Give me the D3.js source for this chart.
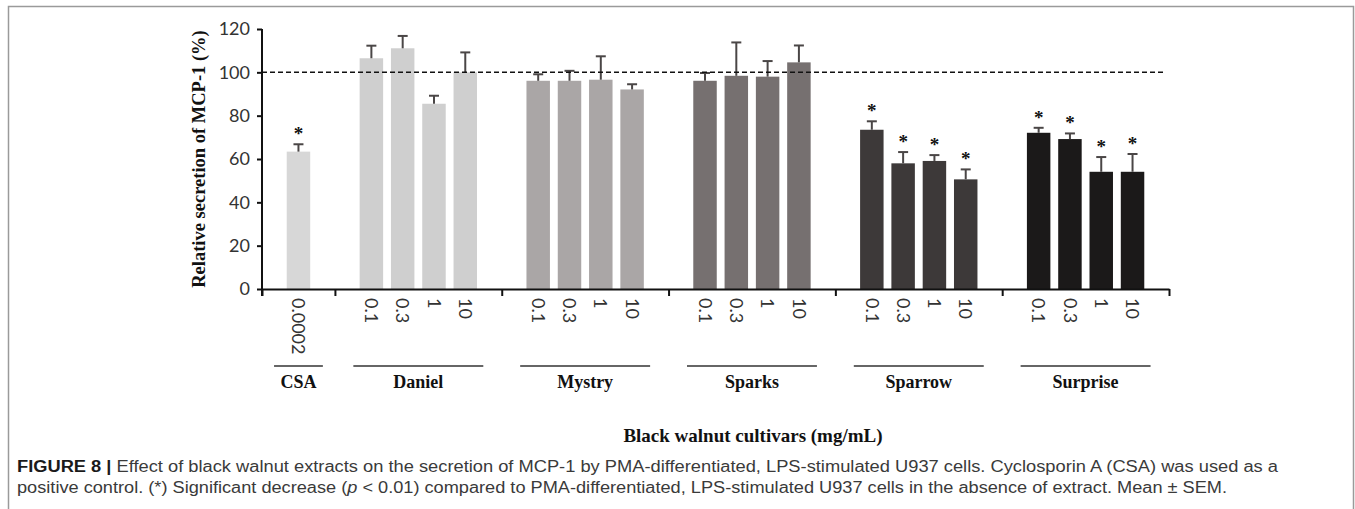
<!DOCTYPE html>
<html>
<head>
<meta charset="utf-8">
<script src="https://cdn.jsdelivr.net/npm/d3@7"></script>
<style>
  body { margin: 0; background: #fff; }
  .tickText { font-family: Lato, "Open Sans", sans-serif; fill: #333; }
  .serifBold { font-family: "Liberation Serif", "Times New Roman", serif; font-weight: bold; fill: #111; }
  .caption { font-family: "Liberation Sans", Arial, sans-serif; font-size: 16px; fill: #3a3a3a; }
</style>
</head>
<body>
<div class="chart"></div>
<script>
// Data
var cultivars = ["CSA", "Daniel", "Mystry", "Sparks", "Sparrow", "Surprise"];
var doses = [
  ["0.0002"],
  ["0.1", "0.3", "1", "10"],
  ["0.1", "0.3", "1", "10"],
  ["0.1", "0.3", "1", "10"],
  ["0.1", "0.3", "1", "10"],
  ["0.1", "0.3", "1", "10"]
];
var means = [
  [63.4],
  [106.5, 111.1, 85.5, 100.0],
  [96.1, 96.1, 96.6, 92.1],
  [96.1, 98.4, 98.0, 104.6],
  [73.5, 58.0, 59.1, 50.6],
  [72.1, 69.2, 54.1, 54.1]
];
var sems = [
  [3.4],
  [5.8, 5.7, 3.7, 9.2],
  [3.0, 4.6, 10.8, 2.4],
  [3.6, 15.4, 7.2, 7.8],
  [3.9, 5.2, 2.7, 4.6],
  [2.3, 2.6, 6.8, 8.2]
];
var significant = [
  [true],
  [false, false, false, false],
  [false, false, false, false],
  [false, false, false, false],
  [true, true, true, true],
  [true, true, true, true]
];
var yTicks = [0, 20, 40, 60, 80, 100, 120];
var controlLevel = 100;
var colors = ["#d7d7d7", "#cfcfcf", "#aaa6a6", "#767070", "#3d3939", "#1b1919"];

var svgWidth = 1355;
var svgHeight = 509;

var svg = d3.select(".chart")
  .append("svg")
  .attr("width", svgWidth)
  .attr("height", svgHeight);

// frame around the figure
svg.append("path")
  .attr("d", "M8.5," + svgHeight + "V6.5H1353.5V" + svgHeight)
  .attr("fill", "none")
  .attr("stroke", "#9a9a9a")
  .attr("stroke-width", 1.5);

// Layout in "bar slots": each group takes its bars plus a gap
// ==============================
var gapUnits = 1.33;
var groups = [];
var cursor = 0;
cultivars.forEach(function(name, i) {
  var n = doses[i].length;
  groups.push({ name: name, start: cursor, n: n, index: i });
  cursor += n + gapUnits;
});
var totalUnits = cursor;

var bars = [];
groups.forEach(function(g) {
  doses[g.index].forEach(function(dose, j) {
    bars.push({
      group: g.index,
      dose: dose,
      pos: g.start + gapUnits / 2 + j + 0.5,
      mean: means[g.index][j],
      sem: sems[g.index][j],
      sig: significant[g.index][j]
    });
  });
});

var xScale = d3.scaleLinear()
  .domain([0, totalUnits])
  .range([262, 1169]);

var yScale = d3.scaleLinear()
  .domain([0, 120])
  .range([289, 29]);

var barWidth = xScale(0.75) - xScale(0);

// Bars
// ==============================
svg.append("g").selectAll("rect")
  .data(bars)
  .enter()
  .append("rect")
  .attr("x", d => xScale(d.pos) - barWidth / 2)
  .attr("y", d => yScale(d.mean))
  .attr("width", barWidth)
  .attr("height", d => yScale(0) - yScale(d.mean))
  .attr("fill", d => colors[d.group]);

// Error bars (upper only)
// ==============================
var errGroup = svg.append("g")
  .attr("stroke", "#4a4646")
  .attr("stroke-width", 2);

errGroup.selectAll(".stem")
  .data(bars)
  .enter()
  .append("line")
  .attr("x1", d => xScale(d.pos))
  .attr("x2", d => xScale(d.pos))
  .attr("y1", d => yScale(d.mean))
  .attr("y2", d => yScale(d.mean + d.sem));

errGroup.selectAll(".cap")
  .data(bars)
  .enter()
  .append("line")
  .attr("x1", d => xScale(d.pos) - 5)
  .attr("x2", d => xScale(d.pos) + 5)
  .attr("y1", d => yScale(d.mean + d.sem))
  .attr("y2", d => yScale(d.mean + d.sem));

// Significance stars
svg.append("g").selectAll("text")
  .data(bars.filter(d => d.sig))
  .enter()
  .append("text")
  .attr("x", d => xScale(d.pos))
  .attr("y", d => yScale(d.mean + d.sem) - 4)
  .attr("text-anchor", "middle")
  .attr("class", "serifBold")
  .style("font-size", "19px")
  .text("*");

// Dashed control line
svg.append("line")
  .attr("x1", xScale(0))
  .attr("x2", 1163)
  .attr("y1", yScale(controlLevel))
  .attr("y2", yScale(controlLevel))
  .attr("stroke", "#111")
  .attr("stroke-width", 1.5)
  .attr("stroke-dasharray", "5,3");

// Y axis
// ==============================
var leftAxis = d3.axisLeft(yScale)
  .tickValues(yTicks)
  .tickSize(5)
  .tickPadding(7);

var yAxisG = svg.append("g")
  .attr("transform", "translate(" + xScale(0) + ",0)")
  .call(leftAxis);
yAxisG.select(".domain")
  .attr("d", "M0," + yScale(120) + "V" + (yScale(0) + 7))
  .attr("stroke", "#111")
  .attr("stroke-width", 2);
yAxisG.selectAll(".tick line").attr("stroke", "#111").attr("stroke-width", 2);
yAxisG.selectAll(".tick text")
  .attr("class", "tickText")
  .style("font-size", "18px");

// X axis: baseline with ticks between the cultivar groups
// ==============================
var boundaries = groups.map(g => g.start).concat([totalUnits]);
var bottomAxis = d3.axisBottom(xScale)
  .tickValues(boundaries)
  .tickSize(7)
  .tickSizeOuter(0)
  .tickFormat("");

var xAxisG = svg.append("g")
  .attr("transform", "translate(0," + yScale(0) + ")")
  .call(bottomAxis);
xAxisG.select(".domain").attr("stroke", "#111").attr("stroke-width", 2);
xAxisG.selectAll(".tick line").attr("stroke", "#111").attr("stroke-width", 2);

// Rotated dose labels
svg.append("g").selectAll("text")
  .data(bars)
  .enter()
  .append("text")
  .attr("transform", d => "translate(" + xScale(d.pos) + "," + (yScale(0) + 9) + ") rotate(90)")
  .attr("dy", "0.35em")
  .attr("class", "tickText")
  .style("font-size", "18px")
  .text(d => d.dose);

// Group underlines and names
var underY = 366;
svg.append("g").selectAll("line")
  .data(groups)
  .enter()
  .append("line")
  .attr("x1", g => xScale(g.start + gapUnits / 2 + g.n / 2 - (0.78 + (g.n - 1) * 0.432)))
  .attr("x2", g => xScale(g.start + gapUnits / 2 + g.n / 2 + (0.78 + (g.n - 1) * 0.432)))
  .attr("y1", underY)
  .attr("y2", underY)
  .attr("stroke", "#333")
  .attr("stroke-width", 1.5);

svg.append("g").selectAll("text")
  .data(groups)
  .enter()
  .append("text")
  .attr("x", g => xScale(g.start + gapUnits / 2 + g.n / 2))
  .attr("y", underY + 22)
  .attr("text-anchor", "middle")
  .attr("class", "serifBold")
  .style("font-size", "18px")
  .text(g => g.name);

// Axis titles
// ==============================
svg.append("text")
  .attr("transform", "translate(205," + (yScale(60)) + ") rotate(-90)")
  .attr("text-anchor", "middle")
  .attr("class", "serifBold")
  .style("font-size", "18.5px")
  .text("Relative secretion of MCP-1 (%)");

svg.append("text")
  .attr("x", 753)
  .attr("y", 442)
  .attr("text-anchor", "middle")
  .attr("class", "serifBold")
  .style("font-size", "19px")
  .text("Black walnut cultivars (mg/mL)");

// Caption
// ==============================
var line1 = svg.append("text")
  .attr("x", 17)
  .attr("y", 472)
  .attr("class", "caption")
  .attr("textLength", 1261)
  .attr("lengthAdjust", "spacingAndGlyphs");
line1.append("tspan")
  .style("font-weight", "bold")
  .style("fill", "#1a1a1a")
  .text("FIGURE 8 | ");
line1.append("tspan")
  .text("Effect of black walnut extracts on the secretion of MCP-1 by PMA-differentiated, LPS-stimulated U937 cells. Cyclosporin A (CSA) was used as a");

var line2 = svg.append("text")
  .attr("x", 17)
  .attr("y", 493)
  .attr("class", "caption")
  .attr("textLength", 1210)
  .attr("lengthAdjust", "spacingAndGlyphs");
line2.append("tspan").text("positive control. (*) Significant decrease (");
line2.append("tspan").style("font-style", "italic").text("p");
line2.append("tspan").text(" < 0.01) compared to PMA-differentiated, LPS-stimulated U937 cells in the absence of extract. Mean \u00b1 SEM.");
</script>
</body>
</html>
